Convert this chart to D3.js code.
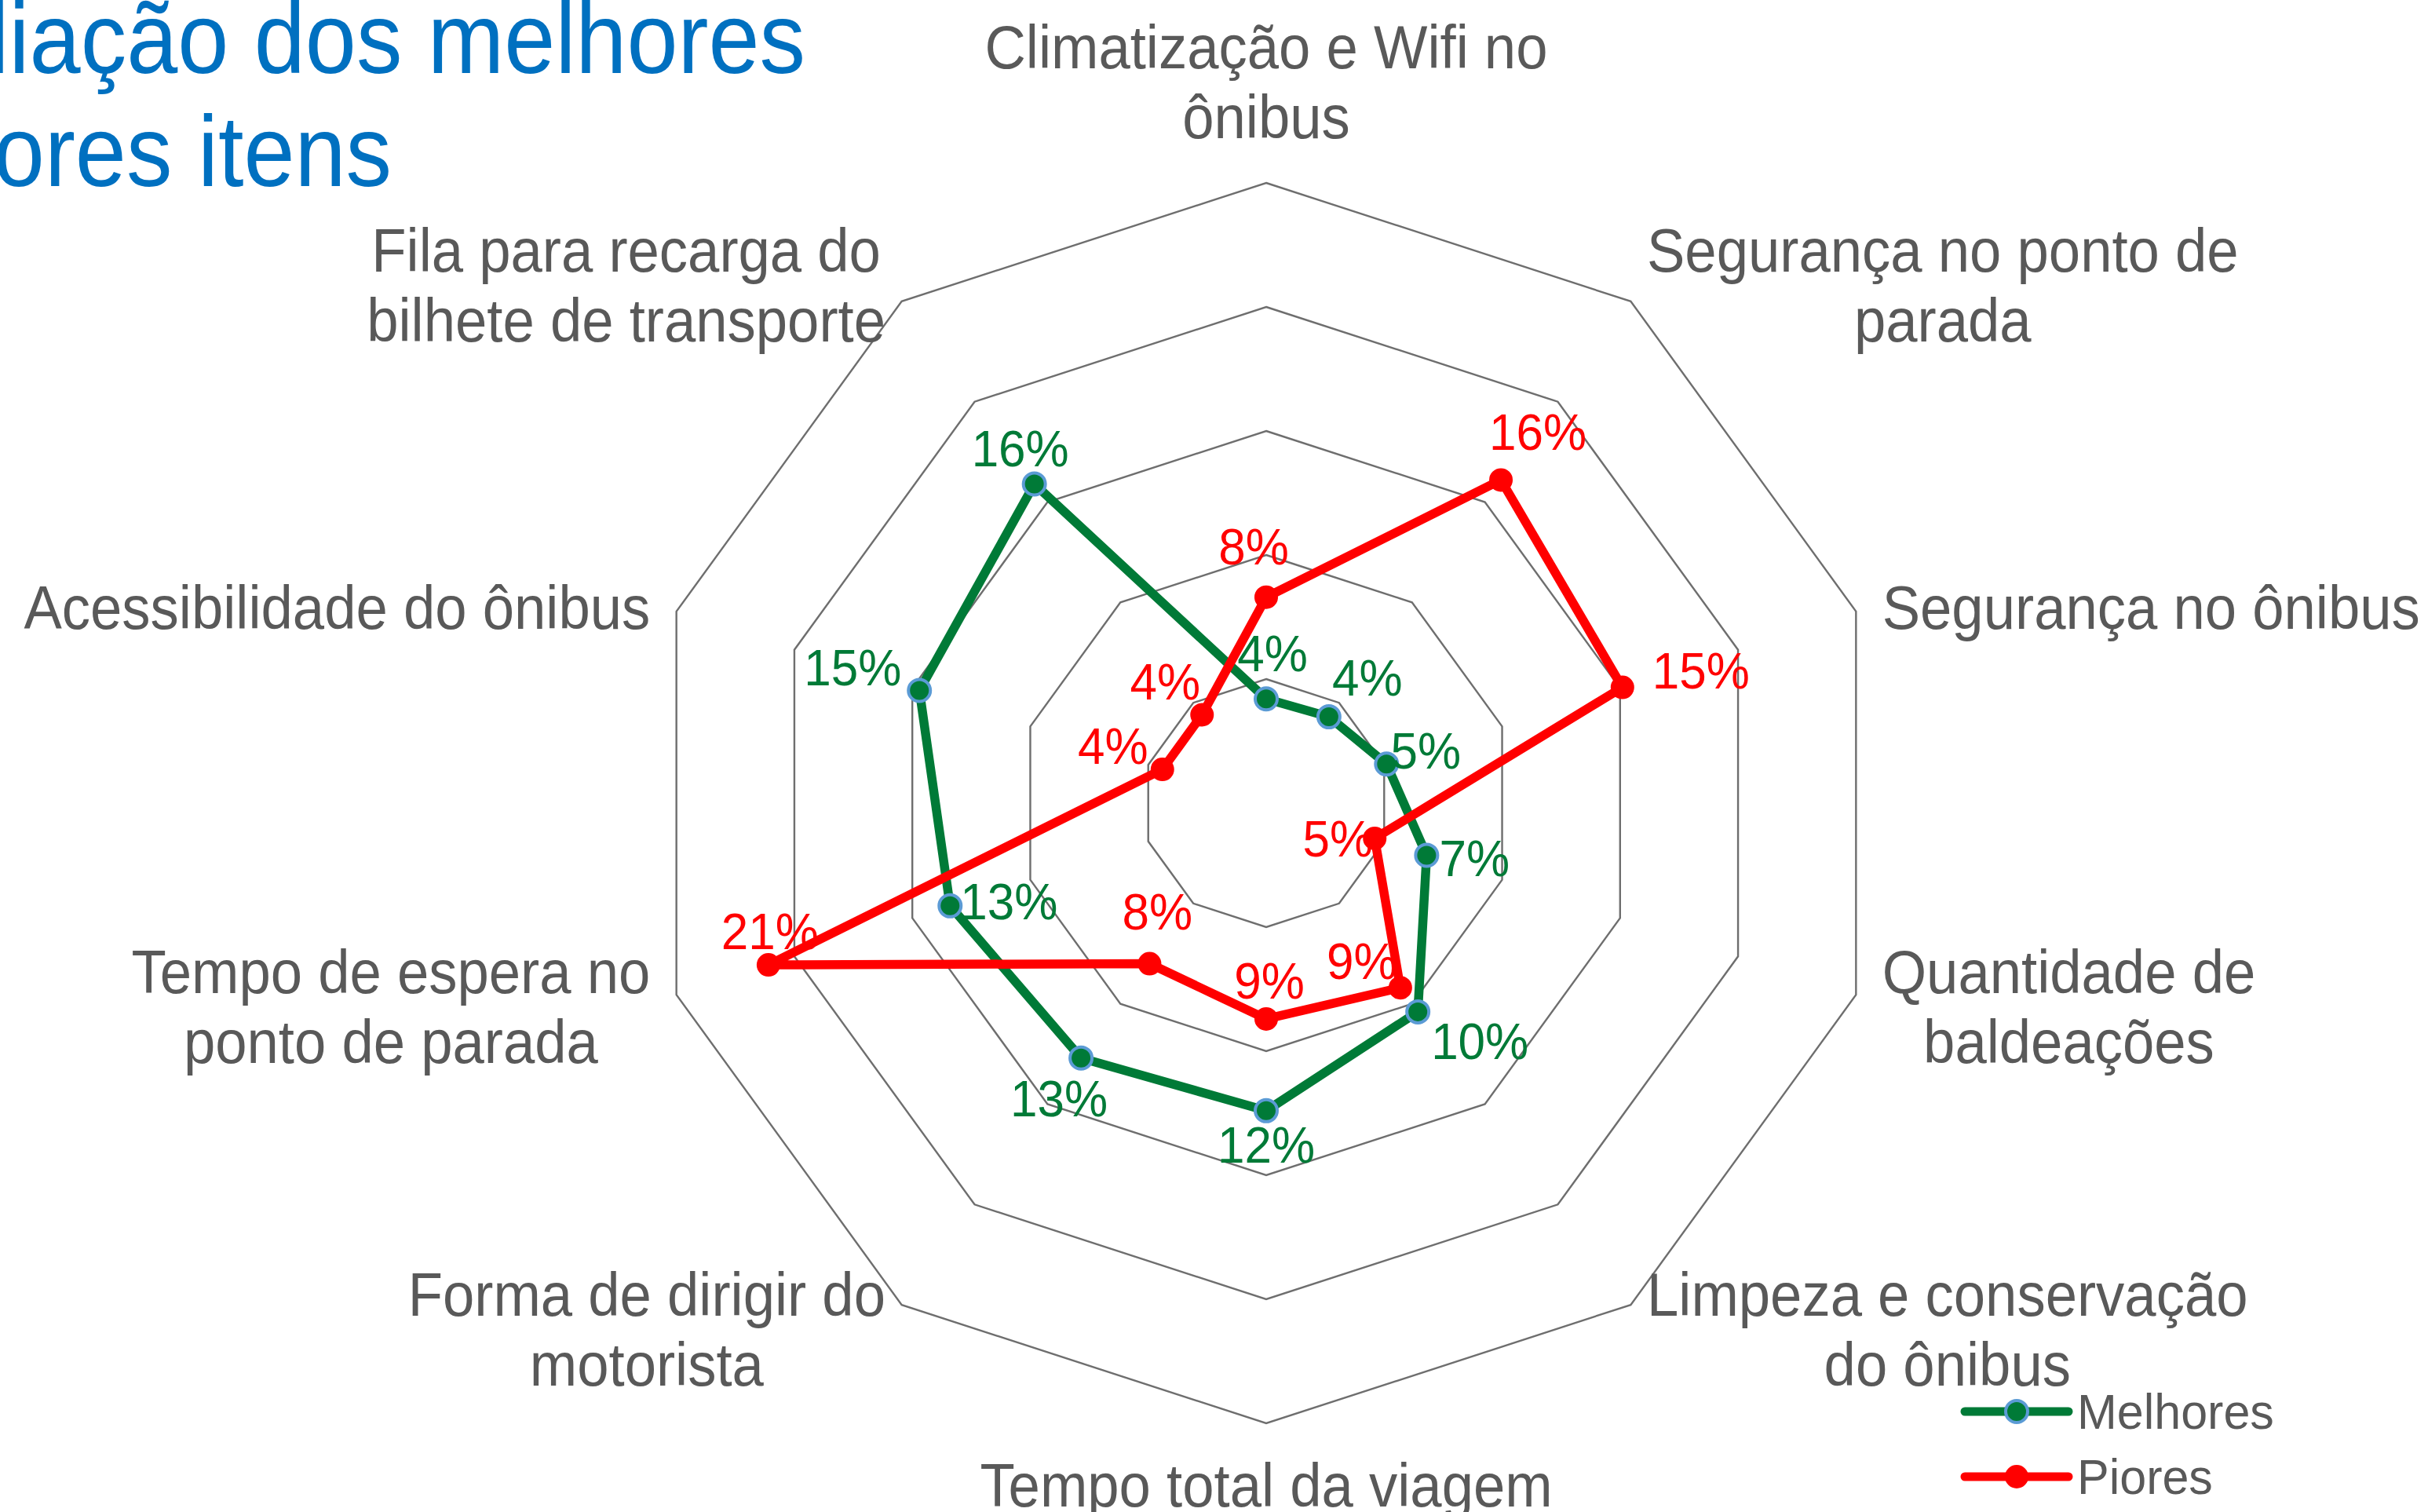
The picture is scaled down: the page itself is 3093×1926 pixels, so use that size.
<!DOCTYPE html>
<html><head><meta charset="utf-8">
<script src="https://cdn.jsdelivr.net/npm/d3@7"></script>
<style>html,body{margin:0;padding:0;background:#fff;overflow:hidden}svg{display:block}</style>
</head><body>
<script>
// ---------- data ----------
const categories = [
  "Climatização e Wifi no\nônibus",
  "Segurança no ponto de\nparada",
  "Segurança no ônibus",
  "Quantidade de\nbaldeações",
  "Limpeza e conservação\ndo ônibus",
  "Tempo total da viagem",
  "Forma de dirigir do\nmotorista",
  "Tempo de espera no\nponto de parada",
  "Acessibilidade do ônibus",
  "Fila para recarga do\nbilhete de transporte"
];
const melhores = [4.2, 4.3, 5.1, 6.8, 10.4, 12.4, 12.7, 13.4, 14.7, 15.9];
const piores   = [8.3, 16.1, 15.1, 4.6, 9.2, 8.7, 8.0, 21.1, 4.4, 4.4];
const seriesNames = ["Melhores", "Piores"];
const gridTicks = [5, 10, 15, 20, 25];
const titleLines = ["Avaliação dos melhores", "e piores itens"];

// ---------- layout (label offsets relative to each computed point) ----------
const melhoresLabelOffsets = [[8,-58],[49,-50],[50,-17],[61,4],[79,37],[0,43],[-28,51],[75,-6],[-85,-30],[-18,-46]];
const pioresLabelOffsets   = [[-16,-65],[47,-61],[100,-22],[-47,0],[-49,-34],[4,-49],[10,-67],[2,-43],[-63,-30],[-47,-43]];

const W = 3093, H = 1926;
const cx = 1613, cy = 1023, R = 790;
const FONT = "'Liberation Sans', Arial, sans-serif";
const GREEN = "#007A37", RED = "#FF0000", BLUE = "#5B9BD5", GREY = "#595959";

const svg = d3.select("body").append("svg").attr("width", W).attr("height", H);
const g = svg.append("g").attr("transform", `translate(${cx},${cy})`);

const r = d3.scaleLinear().domain([0, d3.max(gridTicks)]).range([0, R]);
const angle = d3.scaleLinear().domain([0, categories.length]).range([0, 2 * Math.PI]);
const px = (v, i) => r(v) * Math.sin(angle(i));
const py = (v, i) => -r(v) * Math.cos(angle(i));

// grid rings
const ringLine = d3.lineRadial().angle((d, i) => angle(i)).radius(d => r(d)).curve(d3.curveLinearClosed);
g.append("g").selectAll("path").data(gridTicks).join("path")
  .attr("d", t => ringLine(categories.map(() => t)))
  .attr("fill", "none").attr("stroke", "#6e6e6e").attr("stroke-width", 2.4);

// axis category labels
const capRatio = 0.716;
const axFs = 72.5, axSy = 1.08, axLine = 89;
const axCap = axFs * capRatio * axSy;
const catG = g.append("g");
categories.forEach((c, i) => {
  const lines = c.split("\n");
  const a = angle(i), s = Math.sin(a), co = Math.cos(a);
  const vx = px(d3.max(gridTicks), i), vy = py(d3.max(gridTicks), i);
  const t = catG.append("text")
      .attr("font-family", FONT).attr("font-size", axFs).attr("fill", GREY)
      .attr("text-anchor", "middle");
  const spans = lines.map((l, k) => t.append("tspan").attr("x", 0).attr("y", k * axLine / axSy).text(l));
  const wMax = d3.max(spans, sp => sp.node().getComputedTextLength());
  const n = lines.length;
  let bx, bcy;
  if (Math.abs(s) < 0.1) {
    bx = vx;
    const blockH = (n - 1) * axLine + axCap;
    bcy = co > 0 ? vy - 57 - blockH / 2 : vy + 50 + blockH / 2;
  } else {
    const gap = 35 * Math.abs(s);
    bx = s > 0 ? vx + gap + wMax / 2 : vx - gap - wMax / 2;
    bcy = vy - 32 * co + 4;
  }
  const firstCenter = bcy - (n - 1) / 2 * axLine;
  t.attr("transform", `translate(${bx},${firstCenter + axCap / 2}) scale(1,${axSy})`);
});

// series
const series = [
  {name: seriesNames[0], values: melhores, color: GREEN, mStroke: BLUE, offs: melhoresLabelOffsets, mr: 14},
  {name: seriesNames[1], values: piores, color: RED, mStroke: RED, offs: pioresLabelOffsets, mr: 13}
];
const seriesLine = d3.lineRadial().angle((d, i) => angle(i)).radius(d => r(d)).curve(d3.curveLinearClosed);
series.forEach(sr => {
  const sg = g.append("g");
  sg.append("path").attr("d", seriesLine(sr.values))
    .attr("fill", "none").attr("stroke", sr.color).attr("stroke-width", 11.5).attr("stroke-linejoin", "round");
  sg.selectAll("circle").data(sr.values).join("circle")
    .attr("cx", (d, i) => px(d, i)).attr("cy", (d, i) => py(d, i))
    .attr("r", sr.mr).attr("fill", sr.color).attr("stroke", sr.mStroke).attr("stroke-width", 4);
});
// data labels
const dlFs = 62, dlSy = 1.04;
const dlCap = dlFs * capRatio * dlSy;
series.forEach(sr => {
  g.append("g").selectAll("text").data(sr.values).join("text")
    .attr("font-family", FONT).attr("font-size", dlFs).attr("fill", sr.color)
    .attr("text-anchor", "middle")
    .attr("transform", (d, i) => `translate(${px(d, i) + sr.offs[i][0]},${py(d, i) + sr.offs[i][1] + dlCap / 2}) scale(1,${dlSy})`)
    .text(d => Math.round(d) + "%");
});

// title (partly off the left edge, as in the original slide)
const tFs = 117, tSy = 1.1;
const titleEnds = [[1026, 93], [499, 237]];
svg.append("g").selectAll("text").data(titleLines).join("text")
  .attr("font-family", FONT).attr("font-size", tFs).attr("fill", "#0070C0")
  .attr("text-anchor", "end")
  .attr("transform", (d, i) => `translate(${titleEnds[i][0]},${titleEnds[i][1]}) scale(1,${tSy})`)
  .text(d => d);

// legend
const lg = svg.append("g").attr("transform", "translate(2503,1798)");
const lgFs = 61, lgSy = 1.03;
series.forEach((sr, k) => {
  const row = lg.append("g").attr("transform", `translate(0,${k * 83})`);
  row.append("line").attr("x1", 0).attr("x2", 132).attr("y1", 0).attr("y2", 0)
    .attr("stroke", sr.color).attr("stroke-width", 11).attr("stroke-linecap", "round");
  row.append("circle").attr("cx", 66).attr("cy", 0).attr("r", sr.mr)
    .attr("fill", sr.color).attr("stroke", sr.mStroke).attr("stroke-width", 4);
  row.append("text").attr("font-family", FONT).attr("font-size", lgFs).attr("fill", GREY)
    .attr("transform", `translate(143,${lgFs * capRatio * lgSy / 2}) scale(1,${lgSy})`)
    .text(sr.name);
});
</script>
</body></html>
